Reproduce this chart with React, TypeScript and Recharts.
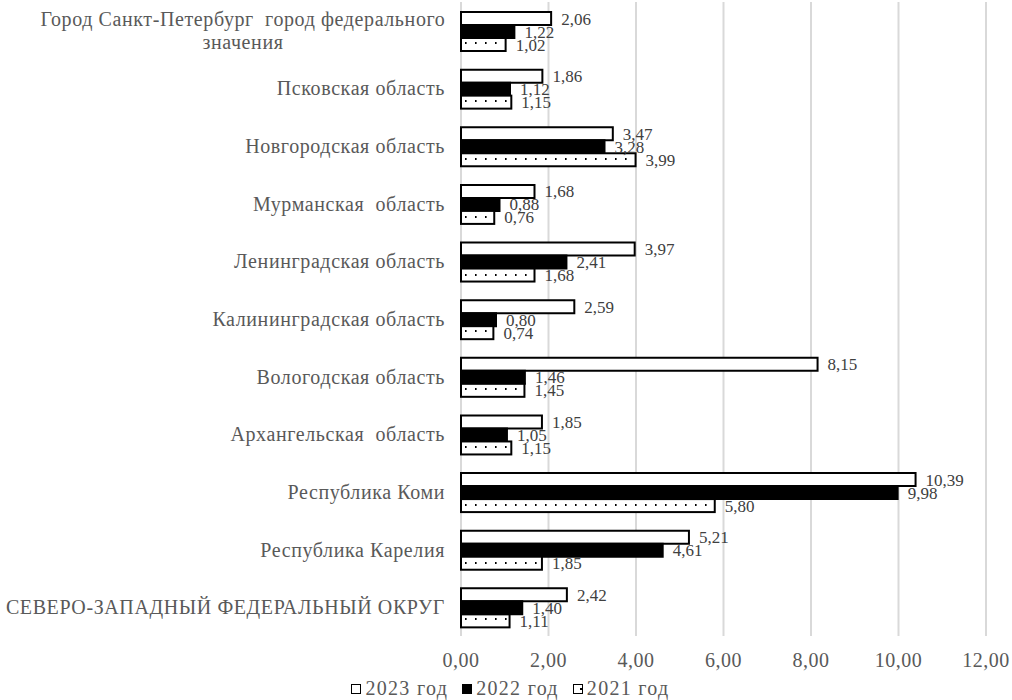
import React from 'react';
import { BarChart, Bar, XAxis, YAxis, CartesianGrid, LabelList, Legend } from 'recharts';

const categories = [
  'Город Санкт-Петербург  город федерального\nзначения',
  'Псковская область',
  'Новгородская область',
  'Мурманская  область',
  'Ленинградская область',
  'Калининградская область',
  'Вологодская область',
  'Архангельская  область',
  'Республика Коми',
  'Республика Карелия',
  'СЕВЕРО-ЗАПАДНЫЙ ФЕДЕРАЛЬНЫЙ ОКРУГ',
];
const values2023 = [2.06, 1.86, 3.47, 1.68, 3.97, 2.59, 8.15, 1.85, 10.39, 5.21, 2.42];
const values2022 = [1.22, 1.12, 3.28, 0.88, 2.41, 0.8, 1.46, 1.05, 9.98, 4.61, 1.4];
const values2021 = [1.02, 1.15, 3.99, 0.76, 1.68, 0.74, 1.45, 1.15, 5.8, 1.85, 1.11];
const xTicks = [0, 2, 4, 6, 8, 10, 12];
const seriesNames = ['2023 год', '2022 год', '2021 год'];

const data = categories.map((name, i) => ({
  name,
  y2023: values2023[i],
  y2022: values2022[i],
  y2021: values2021[i],
}));

const FONT = '"Liberation Serif", "Times New Roman", serif';
const fmt = (v: any) => Number(v).toFixed(2).replace('.', ',');

const CategoryTick = (props: any) => {
  const { x, y, payload } = props;
  const lines = String(payload.value).split('\n');
  const common = { fill: '#595959', fontSize: 20, fontFamily: FONT, letterSpacing: 0.6, style: { whiteSpace: 'pre' as const } };
  if (lines.length === 1) {
    return (
      <text x={x} y={y} dy="0.35em" textAnchor="end" {...common}>
        {lines[0]}
      </text>
    );
  }
  const cx = x - 202;
  const lh = 23;
  const startY = y - ((lines.length - 1) * lh) / 2;
  return (
    <text textAnchor="middle" {...common}>
      {lines.map((l, i) => (
        <tspan key={i} x={cx} y={startY + i * lh} dy="0.35em">{l}</tspan>
      ))}
    </text>
  );
};

const DottedBar = (props: any) => {
  const { x, y, width, height } = props;
  if (!width || width <= 0) return null;
  const stripY = Math.round((y + height / 2 - 2) / 2) * 2;
  return (
    <g>
      <rect x={x} y={y} width={width} height={height} fill="#ffffff" stroke="#000000" strokeWidth={2} />
      <rect x={x + 1} y={stripY} width={Math.max(0, width - 2)} height={2} fill="url(#dotsPattern)" />
    </g>
  );
};

const LegendContent = () => {
  const marks = [
    { fill: '#ffffff', dot: false },
    { fill: '#000000', dot: false },
    { fill: '#ffffff', dot: true },
  ];
  return (
    <div style={{ display: 'flex', justifyContent: 'center', alignItems: 'center', height: 24, paddingLeft: 35, fontFamily: FONT, fontSize: 20, letterSpacing: 1.3, color: '#595959' }}>
      {seriesNames.map((n, i) => (
        <div key={n} style={{ display: 'flex', alignItems: 'center', marginRight: i < 2 ? 14 : 0 }}>
          <span style={{ display: 'inline-block', width: 8, height: 8, border: '1.5px solid #000', background: marks[i].fill, marginRight: 4, position: 'relative', top: 1 }}>
            {marks[i].dot ? <span style={{ position: 'absolute', right: 0, top: 3, width: 2, height: 2, background: '#000' }} /> : null}
          </span>
          <span>{n}</span>
        </div>
      ))}
    </div>
  );
};

export default function App() {
  return (
    <div style={{ position: 'absolute', left: 0, top: 0, width: 1012, height: 700, background: '#fff' }}>
      <BarChart
        width={1012}
        height={700}
        data={data}
        layout="vertical"
        margin={{ top: 2, right: 26, left: 0, bottom: 0 }}
        barCategoryGap={10}
        barGap={0}
      >
        <defs>
          <pattern id="dotsPattern" x={0} y={0} width={10} height={2} patternUnits="userSpaceOnUse">
            <rect x={5} y={0} width={1.6} height={2} fill="#000" />
          </pattern>
        </defs>
        <CartesianGrid horizontal={false} stroke="#d9d9d9" strokeWidth={2} />
        <XAxis
          type="number"
          domain={[0, 12]}
          ticks={xTicks}
          tickFormatter={fmt}
          axisLine={false}
          tickLine={false}
          tickSize={0}
          tickMargin={17}
          height={40}
          tick={{ fill: '#595959', fontSize: 20, fontFamily: FONT, letterSpacing: 0.5 }}
          interval={0}
        />
        <YAxis
          type="category"
          dataKey="name"
          width={461}
          axisLine={false}
          tickLine={false}
          tickSize={0}
          tickMargin={16}
          interval={0}
          tick={<CategoryTick />}
        />
        <Legend verticalAlign="bottom" content={<LegendContent />} />
        <Bar dataKey="y2023" name={seriesNames[0]} fill="#ffffff" stroke="#000000" strokeWidth={2} isAnimationActive={false}>
          <LabelList dataKey="y2023" position="right" offset={10} formatter={fmt} fill="#404040" fontSize={17} fontFamily={FONT} />
        </Bar>
        <Bar dataKey="y2022" name={seriesNames[1]} fill="#000000" stroke="#000000" strokeWidth={2} isAnimationActive={false}>
          <LabelList dataKey="y2022" position="right" offset={10} formatter={fmt} fill="#404040" fontSize={17} fontFamily={FONT} />
        </Bar>
        <Bar dataKey="y2021" name={seriesNames[2]} fill="#ffffff" stroke="#000000" strokeWidth={2} shape={<DottedBar />} isAnimationActive={false}>
          <LabelList dataKey="y2021" position="right" offset={10} formatter={fmt} fill="#404040" fontSize={17} fontFamily={FONT} />
        </Bar>
      </BarChart>
    </div>
  );
}
